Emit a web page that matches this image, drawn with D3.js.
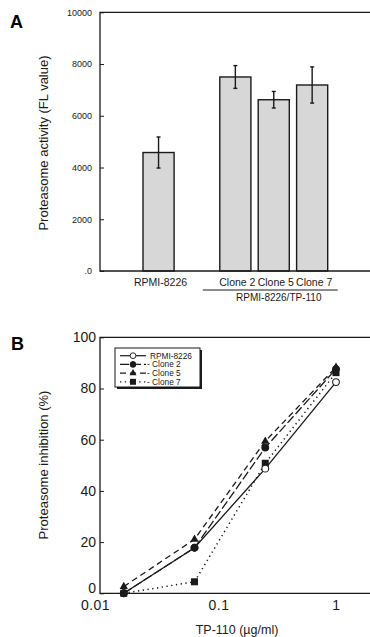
<!DOCTYPE html>
<html>
  <head>
    <meta charset="utf-8">
    <script src="https://d3js.org/d3.v7.min.js"></script>
    <style>
      body { margin: 0; background: #fff; }
      svg { font-family: "Liberation Sans", Arial, sans-serif; }
    </style>
  </head>
  <body>
    <svg width="370" height="637"></svg>
    <script>
      // panel A: proteasome activity
      var groups = ["RPMI-8226", "", "Clone 2", "Clone 5", "Clone 7"];
      var activity = [4580, null, 7500, 6620, 7190];
      var activityErr = [600, null, 440, 320, 700];
      var yTicksA = [0, 2000, 4000, 6000, 8000, 10000];
      var yTickLabelsA = [".0", "2000", "4000", "6000", "8000", "10000"];

      // panel B: inhibition vs dose
      var doses = [0.015625, 0.0625, 0.25, 1];
      var seriesNames = ["RPMI-8226", "Clone 2", "Clone 5", "Clone 7"];
      var rpmi = [0, 17.8, 48.7, 82.5];
      var clone2 = [0, 17.8, 56.9, 87.6];
      var clone5 = [2.6, 21.1, 59.4, 88.3];
      var clone7 = [0, 4.5, 50.8, 86.2];
      var yTicksB = [0, 20, 40, 60, 80, 100];
      var xTicksB = [0.01, 0.1, 1];

      var svg = d3.select("svg");
      var ink = "#1a1a1a";

      // ---------- A ----------
      var xA = d3.scaleBand().domain(groups).range([135.7, 335]).padding(0.19);
      var yA = d3.scaleLinear().domain([0, 10000]).range([271, 12.3]);

      var gA = svg.append("g");

      gA.append("text").attr("x", 10).attr("y", 28)
          .attr("font-size", 18).attr("font-weight", "bold").text("A");

      var barData = groups.map(function(g, i) { return {g: g, v: activity[i], e: activityErr[i]}; })
          .filter(function(d) { return d.v != null; });

      gA.selectAll(".bar")
          .data(barData)
        .enter().append("rect")
          .attr("class", "bar")
          .attr("x", function(d) { return xA(d.g); })
          .attr("width", xA.bandwidth())
          .attr("y", function(d) { return yA(d.v); })
          .attr("height", function(d) { return yA(0) - yA(d.v); })
          .attr("fill", "#d7d7d7")
          .attr("stroke", ink)
          .attr("stroke-width", 1.4);

      var errs = gA.selectAll(".err")
          .data(barData)
        .enter().append("g").attr("class", "err")
          .attr("stroke", ink).attr("stroke-width", 1.4);
      errs.append("line")
          .attr("x1", function(d) { return xA(d.g) + xA.bandwidth() / 2; })
          .attr("x2", function(d) { return xA(d.g) + xA.bandwidth() / 2; })
          .attr("y1", function(d) { return yA(d.v + d.e); })
          .attr("y2", function(d) { return yA(d.v - d.e); });
      [1, -1].forEach(function(s) {
        errs.append("line")
            .attr("x1", function(d) { return xA(d.g) + xA.bandwidth() / 2 - 2; })
            .attr("x2", function(d) { return xA(d.g) + xA.bandwidth() / 2 + 2; })
            .attr("y1", function(d) { return yA(d.v + s * d.e); })
            .attr("y2", function(d) { return yA(d.v + s * d.e); });
      });

      // frame (right side runs off the page)
      gA.append("path")
          .attr("d", "M375," + yA(10000) + "H100V" + yA(0) + "H375")
          .attr("fill", "none").attr("stroke", ink).attr("stroke-width", 1.3);

      var axA = gA.append("g").attr("transform", "translate(100,0)")
          .call(d3.axisLeft(yA).tickValues(yTicksA).tickSize(-4).tickPadding(8)
                .tickFormat(function(d, i) { return yTickLabelsA[i]; }));
      axA.select(".domain").remove();
      axA.selectAll("line").attr("stroke", ink);
      axA.selectAll("text").attr("font-size", 9).attr("font-family", null).attr("fill", ink);

      gA.selectAll(".cat")
          .data(groups.filter(function(g) { return g; }))
        .enter().append("text")
          .attr("class", "cat")
          .attr("x", function(d) { return xA(d) + xA.bandwidth() / 2 + 2; })
          .attr("y", 286)
          .attr("text-anchor", "middle")
          .attr("font-size", 10.5)
          .attr("fill", ink)
          .text(function(d) { return d; });

      gA.append("line")
          .attr("x1", xA("Clone 2") - 17).attr("x2", xA("Clone 7") + xA.bandwidth() + 10)
          .attr("y1", 290).attr("y2", 290)
          .attr("stroke", ink).attr("stroke-width", 1);
      gA.append("text")
          .attr("x", (xA("Clone 2") + xA("Clone 7") + xA.bandwidth()) / 2 + 5)
          .attr("y", 301).attr("text-anchor", "middle")
          .attr("font-size", 10).attr("fill", ink)
          .text("RPMI-8226/TP-110");

      gA.append("text")
          .attr("transform", "translate(48,143) rotate(-90)")
          .attr("text-anchor", "middle").attr("font-size", 13).attr("fill", ink)
          .text("Proteasome activity (FL value)");

      // ---------- B ----------
      var xB = d3.scaleLog().domain([0.01, 1]).range([101, 336]);
      var yB = d3.scaleLinear().domain([0, 100]).range([593.3, 337.3]);

      var gB = svg.append("g");

      gB.append("text").attr("x", 11).attr("y", 350)
          .attr("font-size", 18).attr("font-weight", "bold").text("B");

      gB.append("path")
          .attr("d", "M375," + yB(100) + "H100V" + yB(0) + "H375")
          .attr("fill", "none").attr("stroke", ink).attr("stroke-width", 1.3);

      var axBy = gB.append("g").attr("transform", "translate(100,0)")
          .call(d3.axisLeft(yB).tickValues(yTicksB).tickSize(-4).tickPadding(4));
      axBy.select(".domain").remove();
      axBy.selectAll("line").attr("stroke", ink);
      axBy.selectAll("text").attr("font-size", 14).attr("font-family", null).attr("fill", ink)
          .attr("dy", function(d) { return d === 0 ? "-0.08em" : "0.32em"; });

      var axBx = gB.append("g").attr("transform", "translate(0," + yB(0) + ")")
          .call(d3.axisBottom(xB).tickValues(xTicksB).tickSize(0).tickPadding(7)
                .tickFormat(function(d) { return String(d); }));
      axBx.select(".domain").remove();
      axBx.selectAll("text").attr("font-size", 14).attr("font-family", null)
          .attr("fill", ink).attr("letter-spacing", 0.5)
          .attr("dx", function(d) { return d === 0.01 ? -6 : 0; });

      gB.append("text")
          .attr("transform", "translate(48,465) rotate(-90)")
          .attr("text-anchor", "middle").attr("font-size", 13).attr("fill", ink)
          .text("Proteasome inhibition (%)");
      gB.append("text")
          .attr("x", 237).attr("y", 634).attr("text-anchor", "middle")
          .attr("font-size", 12.5).attr("fill", ink)
          .text("TP-110 (\u00b5g/ml)");

      var series = [
        {name: seriesNames[0], values: rpmi, dash: null, marker: "openCircle"},
        {name: seriesNames[1], values: clone2, dash: "9,3", marker: "circle"},
        {name: seriesNames[2], values: clone5, dash: "6,4", marker: "triangle"},
        {name: seriesNames[3], values: clone7, dash: "1.3,3.5", marker: "square"}
      ];

      var line = d3.line()
          .x(function(d, i) { return xB(doses[i]); })
          .y(function(d) { return yB(d); });

      gB.selectAll(".series")
          .data(series)
        .enter().append("path")
          .attr("class", "series")
          .attr("d", function(d) { return line(d.values); })
          .attr("fill", "none")
          .attr("stroke", ink)
          .attr("stroke-width", function(d) { return d.marker === "square" ? 1.5 : 1.3; })
          .attr("stroke-dasharray", function(d) { return d.dash; });

      function drawMarker(sel, type) {
        if (type === "openCircle" || type === "circle") {
          sel.append("circle").attr("r", 3.4)
              .attr("fill", type === "circle" ? ink : "#fff")
              .attr("stroke", ink).attr("stroke-width", 1.1);
        } else if (type === "square") {
          sel.append("rect").attr("x", -3.5).attr("y", -3.5)
              .attr("width", 7).attr("height", 7).attr("fill", ink);
        } else {
          sel.append("path")
              .attr("d", d3.symbol().type(d3.symbolTriangle).size(30)())
              .attr("fill", ink);
        }
      }

      // draw markers back to front so the order matches the original
      [2, 3, 0, 1].forEach(function(si) {
        var s = series[si];
        s.values.forEach(function(v, i) {
          var m = gB.append("g").attr("transform", "translate(" + xB(doses[i]) + "," + yB(v) + ")");
          drawMarker(m, s.marker);
        });
      });

      // legend
      var lg = gB.append("g").attr("transform", "translate(115,348)");
      lg.append("rect").attr("x", 2).attr("y", 2).attr("width", 85).attr("height", 39)
          .attr("fill", ink);
      lg.append("rect").attr("width", 85).attr("height", 39)
          .attr("fill", "#fff").attr("stroke", ink).attr("stroke-width", 1);
      var rows = lg.selectAll(".row")
          .data(series)
        .enter().append("g")
          .attr("class", "row")
          .attr("transform", function(d, i) { return "translate(0," + (7.7 + i * 8.7) + ")"; });
      rows.append("line")
          .attr("x1", 5).attr("x2", 31).attr("y1", 0).attr("y2", 0)
          .attr("stroke", ink).attr("stroke-width", 1.2)
          .attr("stroke-dasharray", function(d) { return d.dash; });
      rows.each(function(d) {
        var m = d3.select(this).append("g").attr("transform", "translate(18,0) scale(0.85)");
        drawMarker(m, d.marker);
      });
      rows.append("text")
          .attr("x", function(d, i) { return i === 0 ? 35 : 32; })
          .attr("y", 3)
          .attr("font-size", 8.3).attr("fill", ink)
          .text(function(d, i) { return i === 0 ? d.name : "- " + d.name; });
    </script>
  </body>
</html>
